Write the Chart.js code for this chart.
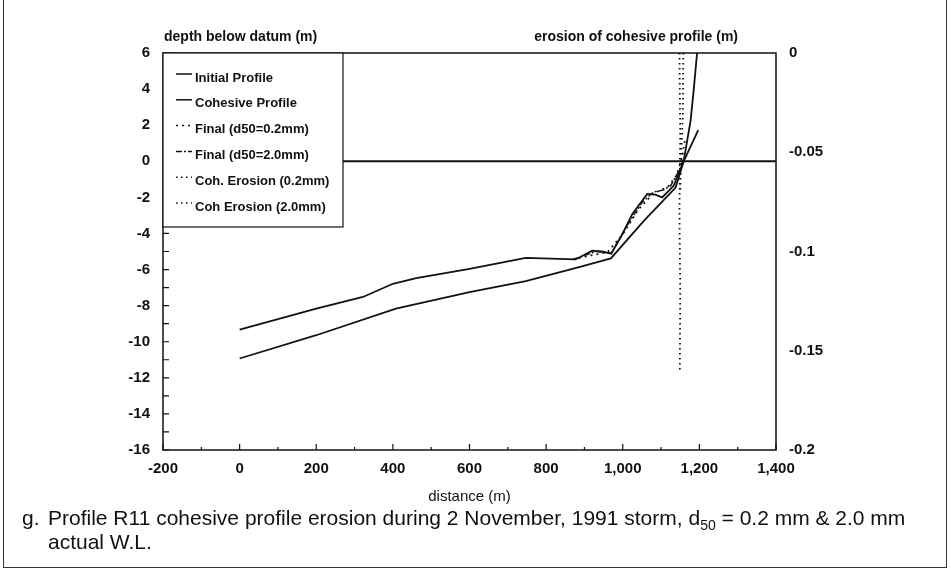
<!DOCTYPE html>
<html>
<head>
<meta charset="utf-8">
<script src="https://cdn.jsdelivr.net/npm/chart.js@4"></script>
<style>
body{margin:0;background:#fff;}
#fig{position:relative;width:951px;height:578px;overflow:hidden;background:#fff;}
#wrap{position:absolute;left:0;top:0;width:951px;height:578px;}
.frame{position:absolute;left:3px;top:-2px;width:942px;height:568px;border:1.5px solid #333;}
.cap{position:absolute;font-family:"Liberation Sans",Arial,sans-serif;font-size:21px;color:#111;white-space:nowrap;}
</style>
</head>
<body>
<div id="fig">
<div class="frame"></div>
<div id="wrap"><canvas id="grafico"></canvas></div>
<div class="cap" style="left:22px;top:506px;">g.</div>
<div class="cap" style="left:48px;top:506px;">Profile R11 cohesive profile erosion during 2 November, 1991 storm, d<sub style="font-size:14px">50</sub> = 0.2 mm &amp; 2.0 mm</div>
<div class="cap" style="left:48px;top:530px;">actual W.L.</div>
</div>
<script>
// profiles (distance m, depth m)
const distInitial = [0,200,322,400,461,600,747,877,920,945,970,1000,1025,1064,1085,1103,1133,1159,1177,1185,1194];
const depthInitial = [-9.33,-8.17,-7.52,-6.79,-6.47,-5.96,-5.35,-5.44,-4.95,-5.0,-5.12,-4.0,-2.92,-1.81,-1.85,-2.0,-1.35,0,2.24,3.9,6];

const distCohesive = [0,200,408,600,747,886,969,1055,1138,1159,1197];
const depthCohesive = [-10.93,-9.64,-8.17,-7.25,-6.64,-5.87,-5.38,-3.3,-1.46,0,1.72];

const distFinal02 = [870,920,960,1005,1040,1079,1118,1140,1155,1163];
const depthFinal02 = [-5.44,-5.2,-5.05,-3.9,-2.7,-1.8,-1.4,-0.8,0.2,1.3];

const distFinal20 = [870,930,970,1010,1050,1080,1105,1125,1150,1160];
const depthFinal20 = [-5.44,-5.0,-5.1,-3.6,-2.3,-1.7,-1.6,-1.35,-0.4,0.2];

// erosion of cohesive profile (right axis)
const distCoh02 = [1148,1150,1148,1150,1149];
const erosionCoh02 = [0,-0.04,-0.08,-0.12,-0.16];
const distCoh20 = [1158,1157,1152,1150];
const erosionCoh20 = [0,-0.03,-0.055,-0.07];

const distWL = [-200,1400];
const levelWL = [0,0];

const xTicks = [-200,1400,200];
const yTicks = [-16,6,2];
const y2Ticks = [-0.2,0,0.05];

function pts(xs, ys){
return xs.map((x,i)=>({x:x,y:ys[i]}));
}

const tickFont = {family:"Liberation Sans, Arial, sans-serif", size:15, weight:"bold"};

const figura = {
id:"figura",
afterDatasetsDraw(chart){
const c = chart.ctx;
const a = chart.chartArea;
const sx = chart.scales.x, sy = chart.scales.y;
c.save();
c.strokeStyle = "#111";
c.lineWidth = 1.5;
c.strokeRect(a.left, a.top, a.right-a.left, a.bottom-a.top);

// inward ticks
c.lineWidth = 1.2;
c.beginPath();
for(let v=yTicks[0]; v<=yTicks[1]; v++){
let p = sy.getPixelForValue(v);
c.moveTo(a.left,p); c.lineTo(a.left+6,p);
}
for(let v=xTicks[0]; v<=xTicks[1]; v+=100){
let p = sx.getPixelForValue(v);
let l = (v%200===0) ? 6 : 3;
c.moveTo(p,a.bottom); c.lineTo(p,a.bottom-l);
}
c.stroke();

// titles
c.fillStyle = "#111";
c.font = "bold 14px Liberation Sans, Arial, sans-serif";
c.textBaseline = "middle";
c.textAlign = "left";
c.fillText("depth below datum (m)", a.left+1, a.top-16);
c.textAlign = "right";
c.fillText("erosion of cohesive profile (m)", a.right-38, a.top-16);
c.font = "15px Liberation Sans, Arial, sans-serif";
c.textAlign = "center";
c.fillText("distance (m)", (a.left+a.right)/2, 497);

// legend box
const bx = a.left, by = a.top, bw = 180, bh = 174;
c.fillStyle = "#fff";
c.fillRect(bx, by, bw, bh);
c.strokeStyle = "#111";
c.lineWidth = 1.2;
c.strokeRect(bx, by, bw, bh);
c.font = "bold 13px Liberation Sans, Arial, sans-serif";
c.textAlign = "left";
let row = 0;
chart.data.datasets.forEach(ds=>{
if(ds.semLegenda) return;
let ty = by + 25 + row*25.8;
c.strokeStyle = "#111";
c.lineWidth = 1.5;
c.setLineDash(ds.borderDash || []);
c.beginPath();
c.moveTo(bx+13, ty-4);
c.lineTo(bx+29, ty-4);
c.stroke();
c.setLineDash([]);
c.fillStyle = "#111";
c.fillText(ds.label, bx+32, ty);
row++;
});
c.restore();
}
};

new Chart(document.getElementById("grafico"),{
type:"line",
data:{
datasets:[
{label:"Initial Profile", data:pts(distInitial,depthInitial), borderColor:"#111", borderWidth:1.8, yAxisID:"y"},
{label:"Cohesive Profile", data:pts(distCohesive,depthCohesive), borderColor:"#111", borderWidth:1.8, yAxisID:"y"},
{label:"Final (d50=0.2mm)", data:pts(distFinal02,depthFinal02), borderColor:"#111", borderWidth:1.6, borderDash:[2,4], yAxisID:"y"},
{label:"Final (d50=2.0mm)", data:pts(distFinal20,depthFinal20), borderColor:"#111", borderWidth:1.4, borderDash:[6,2,2,2], yAxisID:"y"},
{label:"Coh. Erosion (0.2mm)", data:pts(distCoh02,erosionCoh02), borderColor:"#111", borderWidth:1.8, borderDash:[1.5,3.5], yAxisID:"y2"},
{label:"Coh Erosion (2.0mm)", data:pts(distCoh20,erosionCoh20), borderColor:"#111", borderWidth:1.8, borderDash:[1.5,3.5], yAxisID:"y2"},
{label:"W.L.", data:pts(distWL,levelWL), borderColor:"#111", borderWidth:1.8, yAxisID:"y", semLegenda:true}
]
},
options:{
responsive:true,
maintainAspectRatio:false,
animation:false,
elements:{point:{radius:0}, line:{tension:0, fill:false}},
layout:{padding:{top:53,left:0,right:0,bottom:98}},
plugins:{legend:{display:false}, tooltip:{enabled:false}},
scales:{
x:{
type:"linear", min:xTicks[0], max:xTicks[1],
grid:{display:false}, border:{display:false},
ticks:{stepSize:xTicks[2], color:"#111", font:tickFont, padding:2, maxRotation:0, autoSkip:false,
callback:v=>v.toLocaleString("en-US")},
afterFit:s=>{s.height=30;}
},
y:{
type:"linear", position:"left", min:yTicks[0], max:yTicks[1],
grid:{display:false}, border:{display:false},
ticks:{stepSize:yTicks[2], color:"#111", font:tickFont, padding:5},
afterFit:s=>{s.width=163;}
},
y2:{
type:"linear", position:"right", min:y2Ticks[0], max:y2Ticks[1],
grid:{display:false}, border:{display:false},
ticks:{stepSize:y2Ticks[2], color:"#111", font:tickFont, padding:5,
callback:v=>String(+v.toFixed(2))},
afterFit:s=>{s.width=175;}
}
}
},
plugins:[figura]
});
</script>
</body>
</html>
